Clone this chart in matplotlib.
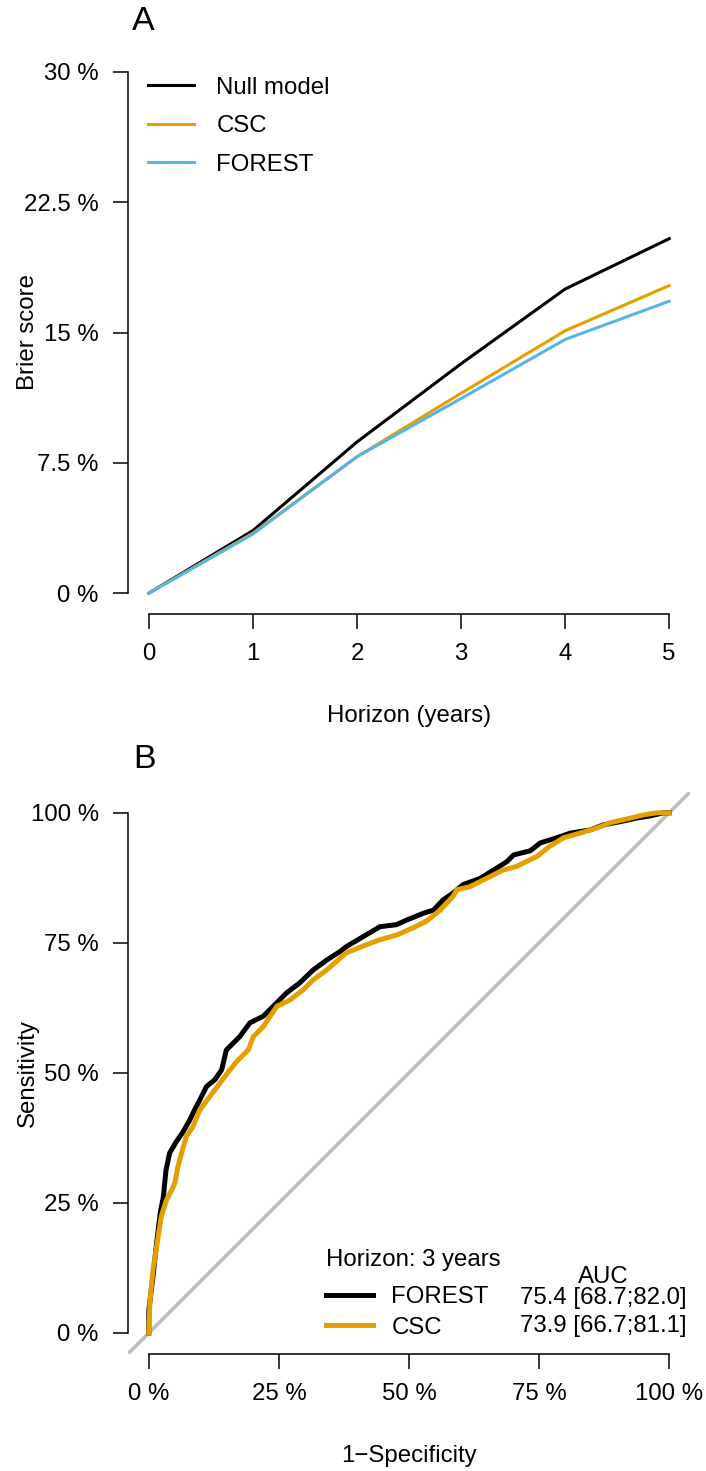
import numpy as np
import matplotlib.pyplot as plt

plt.rcParams['font.family'] = ['Liberation Sans', 'DejaVu Sans']

# ---- panel A: Brier score by horizon
horizon = [0, 1, 2, 3, 4, 5]
brier_null = [0.0, 3.6, 8.7, 13.2, 17.5, 20.4]
brier_csc = [0.0, 3.45, 7.85, 11.5, 15.1, 17.7]
brier_forest = [0.0, 3.4, 7.85, 11.2, 14.6, 16.8]
brier_ticks = [0, 7.5, 15, 22.5, 30]
brier_ticklabels = ["0 %", "7.5 %", "15 %", "22.5 %", "30 %"]

# ---- panel B: ROC curves at 3 years (1-specificity, sensitivity in %)
forest_fpr = [0, 0, 0.8, 1.5, 2.2, 2.8, 3.3, 4.0, 5.3, 6.6, 7.9, 8.8, 9.8, 11.1, 12.7, 14.0,
              14.9, 17.5, 19.4, 22.0, 23.9, 26.5, 29.0, 31.6, 34.2, 36.7, 38.0, 41.2, 44.4,
              47.6, 49.6, 52.8, 54.7, 56.6, 58.5, 60.4, 63.7, 66.9, 68.8, 70.1, 73.3, 75.2,
              79.0, 81.0, 84.8, 87.4, 90.6, 93.8, 96.3, 98.9, 100]
forest_tpr = [0, 4.4, 10.8, 17.3, 23.1, 26.2, 31.3, 34.6, 36.8, 38.7, 41.0, 42.9, 44.8, 47.4,
              48.7, 50.6, 54.4, 57.0, 59.6, 60.9, 62.8, 65.4, 67.3, 69.8, 71.7, 73.3, 74.3,
              76.2, 78.1, 78.5, 79.4, 80.7, 81.3, 83.3, 84.6, 86.2, 87.4, 89.4, 90.6, 91.9,
              92.7, 94.2, 95.4, 96.1, 96.7, 97.7, 98.3, 99.0, 99.4, 100, 100]
csc_fpr = [0, 0.2, 0.8, 1.8, 2.4, 3.4, 4.4, 5.0, 5.6, 6.3, 7.2, 8.5, 9.8, 11.7, 13.7, 15.6,
           16.9, 19.1, 20.1, 22.0, 24.6, 27.1, 29.7, 31.6, 34.2, 36.7, 38.0, 41.2, 44.4, 47.6,
           50.8, 53.4, 56.0, 58.5, 59.2, 61.7, 64.9, 68.1, 70.7, 73.3, 74.6, 77.1, 79.7, 82.9,
           86.1, 88.7, 91.8, 95.1, 97.6, 100]
csc_tpr = [0, 5.8, 12.1, 18.5, 22.4, 25.6, 27.5, 28.8, 32.0, 34.6, 37.8, 39.7, 42.9, 45.4,
           48.1, 50.6, 52.2, 54.4, 57.0, 58.9, 62.8, 64.0, 66.0, 67.9, 69.8, 72.0, 73.1, 74.4,
           75.6, 76.5, 77.9, 79.2, 81.3, 84.0, 85.2, 85.8, 87.4, 89.0, 89.7, 91.0, 91.6, 93.6,
           95.2, 96.1, 97.1, 98.1, 98.8, 99.6, 100, 100]
roc_ticks = [0, 25, 50, 75, 100]
roc_ticklabels = ["0 %", "25 %", "50 %", "75 %", "100 %"]
auc_labels = ["75.4 [68.7;82.0]", "73.9 [66.7;81.1]"]

BLACK = "#000000"
ORANGE = "#E69F00"
BLUE = "#56B4E9"
FS = 17.3

W, H = 706, 1471
fig = plt.figure(figsize=(W / 100, H / 100), dpi=100)


def box(l, t, r, b):
    return [l / W, 1 - b / H, (r - l) / W, (b - t) / H]


def r_style(ax, xt, yt):
    for s in ["top", "right"]:
        ax.spines[s].set_visible(False)
    ax.spines["left"].set_bounds(yt[0], yt[-1])
    ax.spines["bottom"].set_bounds(xt[0], xt[-1])
    for s in ["left", "bottom"]:
        ax.spines[s].set_linewidth(1.1)
    ax.tick_params(direction="out", length=11, width=1.1, labelsize=FS, pad=10)


ax1 = fig.add_axes(box(128, 51, 690, 614))
ax1.plot(horizon, brier_null, color=BLACK, lw=2.2, label="Null model")
ax1.plot(horizon, brier_csc, color=ORANGE, lw=2.2, label="CSC")
ax1.plot(horizon, brier_forest, color=BLUE, lw=2.2, label="FOREST")
ax1.set_xlim(-0.2, 5.2)
ax1.set_ylim(-1.2, 31.2)
ax1.set_xticks(horizon)
ax1.set_yticks(brier_ticks)
ax1.set_yticklabels(brier_ticklabels)
r_style(ax1, horizon, brier_ticks)
ax1.set_xlabel("Horizon (years)", fontsize=FS)
ax1.set_ylabel("Brier score", fontsize=FS)
ax1.xaxis.set_label_coords(0.5, -0.162)
ax1.yaxis.set_label_coords(-0.159, 0.5)
ax1.legend(loc="upper left", bbox_to_anchor=(0.0356, 0.954), frameon=False, fontsize=FS,
           borderpad=0, borderaxespad=0, handlelength=1.9, handletextpad=0.95,
           labelspacing=0.68)
ax1.text(0.027, 1.053, "A", transform=ax1.transAxes, fontsize=24.5, ha="center", va="center")

ax2 = fig.add_axes(box(128, 792, 690, 1354))
ax2.axline((0, 0), (100, 100), color="#BEBEBE", lw=2.6, zorder=1)
ax2.plot(forest_fpr, forest_tpr, color=BLACK, lw=3.6, label="FOREST", zorder=3)
ax2.plot(csc_fpr, csc_tpr, color=ORANGE, lw=3.6, label="CSC", zorder=4)
ax2.set_xlim(-4, 104)
ax2.set_ylim(-4.04, 104)
ax2.set_xticks(roc_ticks)
ax2.set_xticklabels(roc_ticklabels)
ax2.set_yticks(roc_ticks)
ax2.set_yticklabels(roc_ticklabels)
r_style(ax2, roc_ticks, roc_ticks)
ax2.set_xlabel("1\u2212Specificity", fontsize=FS)
ax2.set_ylabel("Sensitivity", fontsize=FS)
ax2.xaxis.set_label_coords(0.5, -0.162)
ax2.yaxis.set_label_coords(-0.159, 0.5)
leg = ax2.legend(loc="upper left", bbox_to_anchor=(0.353, 0.186), frameon=False, fontsize=FS,
                 title="Horizon: 3 years", title_fontsize=FS, alignment="left",
                 borderpad=0, borderaxespad=0, handlelength=1.95, handletextpad=0.75,
                 labelspacing=0.36)
leg._legend_box.sep = 10.5  # a bit more room under the legend title
ax2.text(87.3, 10.8, "AUC", fontsize=FS, ha="center", va="center")
ax2.text(87.3, 6.8, auc_labels[0], fontsize=FS, ha="center", va="center")
ax2.text(87.3, 1.3, auc_labels[1], fontsize=FS, ha="center", va="center")
ax2.text(0.03, 1.057, "B", transform=ax2.transAxes, fontsize=24.5, ha="center", va="center")

fig.savefig("out.png", dpi=100)
